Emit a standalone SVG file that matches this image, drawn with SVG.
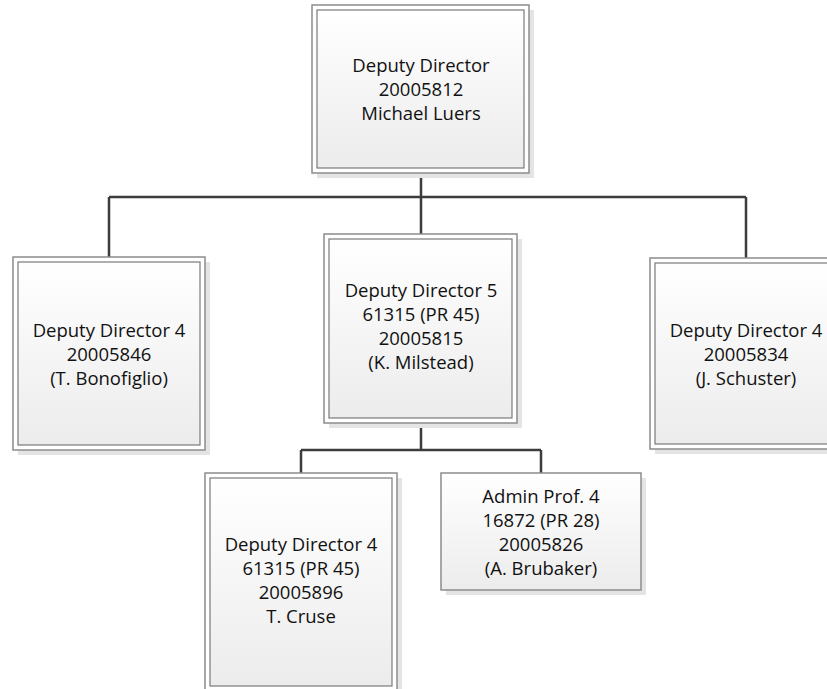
<svg xmlns="http://www.w3.org/2000/svg" width="827" height="689" viewBox="0 0 827 689">
<defs>
<linearGradient id="g" x1="0" y1="0" x2="0" y2="1">
<stop offset="0" stop-color="#ffffff"/>
<stop offset="1" stop-color="#ececec"/>
</linearGradient>
<style>
.sh{fill:#e4e4e4;stroke:none}
.out{fill:#ffffff;stroke:#8c8c8c;stroke-width:1.5}
.in{fill:url(#g);stroke:#7a7a7a;stroke-width:1.2}
.single{fill:url(#g);stroke:#8c8c8c;stroke-width:1.5}
.t{font-family:"Open Sans","Liberation Sans",sans-serif;font-size:18.5px;fill:#111111;text-anchor:middle}
.c{fill:none;stroke:#3c3c3c;stroke-width:2.5}
</style>
</defs>
<rect width="827" height="689" fill="#ffffff"/>
<g id="connectors">
<path class="c" d="M421,173 V197 M109,197 H746 M109,197 V257 M421,197 V234 M746,197 V258"/>
<path class="c" d="M421,423 V450 M301,450 H541 M301,450 V473 M541,450 V473"/>
</g>
<g id="n_deputy_director">
<rect class="sh" x="317" y="10" width="217" height="168"/>
<rect class="out" x="312" y="5" width="217" height="168"/>
<rect class="in" x="317" y="10" width="207" height="158"/>
<text class="t" x="421" y="72">Deputy Director</text>
<text class="t" x="421" y="96">20005812</text>
<text class="t" x="421" y="120">Michael Luers</text>
</g>
<g id="n_bonofiglio">
<rect class="sh" x="18" y="262" width="192" height="193"/>
<rect class="out" x="13" y="257" width="192" height="193"/>
<rect class="in" x="18" y="262" width="182" height="183"/>
<text class="t" x="109" y="337">Deputy Director 4</text>
<text class="t" x="109" y="361">20005846</text>
<text class="t" x="109" y="385">(T. Bonofiglio)</text>
</g>
<g id="n_milstead">
<rect class="sh" x="329" y="239" width="193" height="189"/>
<rect class="out" x="324" y="234" width="193" height="189"/>
<rect class="in" x="329" y="239" width="183" height="179"/>
<text class="t" x="421" y="297">Deputy Director 5</text>
<text class="t" x="421" y="321">61315 (PR 45)</text>
<text class="t" x="421" y="345">20005815</text>
<text class="t" x="421" y="369">(K. Milstead)</text>
</g>
<g id="n_schuster">
<rect class="sh" x="655" y="263" width="192" height="191"/>
<rect class="out" x="650" y="258" width="192" height="191"/>
<rect class="in" x="655" y="263" width="182" height="181"/>
<text class="t" x="746" y="337">Deputy Director 4</text>
<text class="t" x="746" y="361">20005834</text>
<text class="t" x="746" y="385">(J. Schuster)</text>
</g>
<g id="n_cruse">
<rect class="sh" x="210" y="478" width="192" height="220"/>
<rect class="out" x="205" y="473" width="192" height="220"/>
<rect class="in" x="210" y="478" width="182" height="208"/>
<text class="t" x="301" y="551">Deputy Director 4</text>
<text class="t" x="301" y="575">61315 (PR 45)</text>
<text class="t" x="301" y="599">20005896</text>
<text class="t" x="301" y="623">T. Cruse</text>
</g>
<g id="n_brubaker">
<rect class="sh" x="446" y="478" width="200" height="117"/>
<rect class="single" x="441" y="473" width="200" height="117"/>
<text class="t" x="541" y="503">Admin Prof. 4</text>
<text class="t" x="541" y="527">16872 (PR 28)</text>
<text class="t" x="541" y="551">20005826</text>
<text class="t" x="541" y="575">(A. Brubaker)</text>
</g>
</svg>
